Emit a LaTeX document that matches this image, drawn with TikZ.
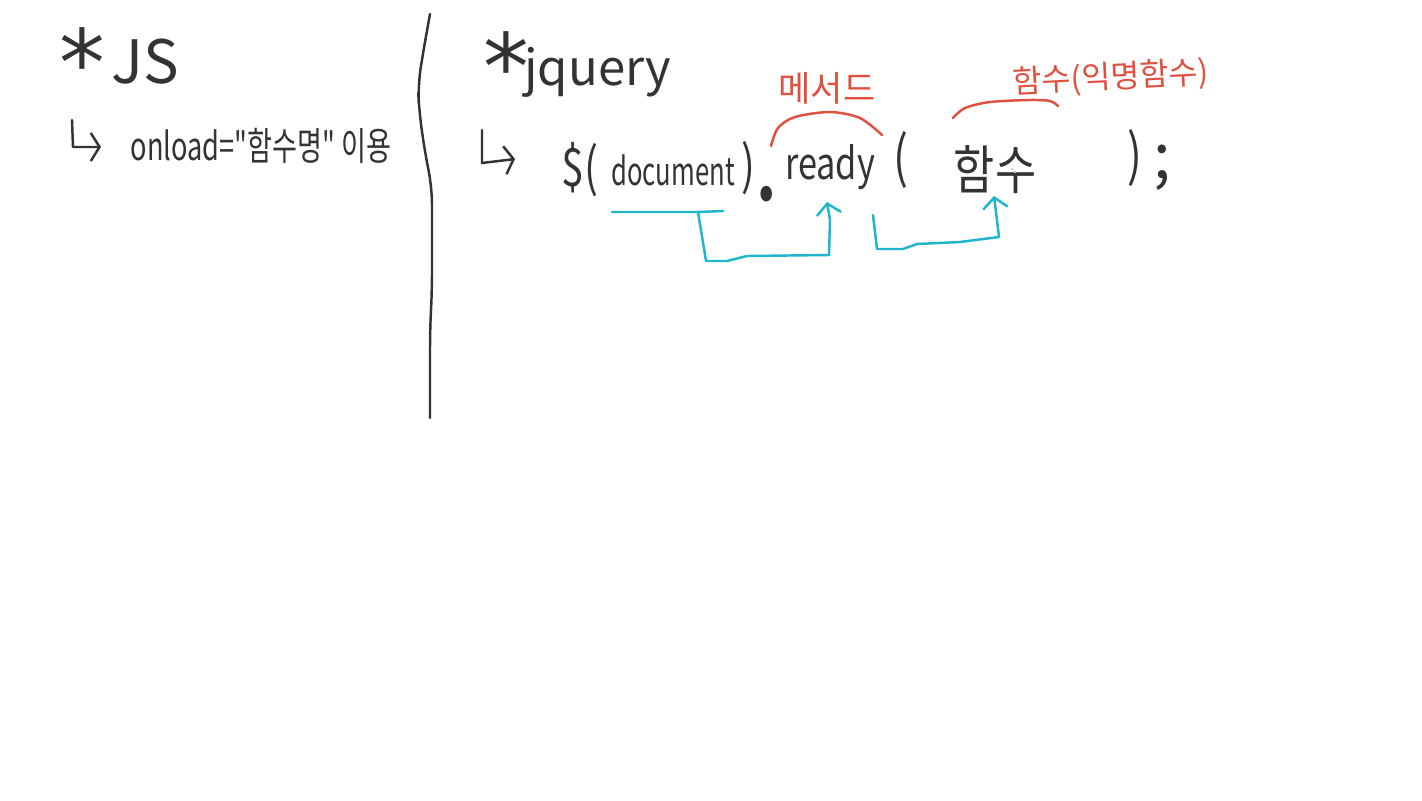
\documentclass[tikz,border=0pt]{standalone}
\usepackage{fontspec}
\setmainfont[Ligatures=TeXOff]{Noto Sans CJK KR}
\newfontfamily\starfont{DejaVu Sans}
\usepackage{xcolor}
\usetikzlibrary{arrows.meta, positioning, calc}

\definecolor{inkblack}{HTML}{333333}
\definecolor{penred}{HTML}{E0503F}
\definecolor{pencyan}{HTML}{1FB5CC}

\begin{document}
\begin{tikzpicture}[
    x=0.01cm,
    y=-0.01cm,
    line cap=round,
    line join=round,
    hand/.style={
        inner sep=0pt,
        text=inkblack,
        transform shape,
        xscale=0.78,
        font=\fontsize{10}{12}\selectfont
    },
    handbig/.style={
        hand,
        xscale=1.28,
        font=\fontsize{15}{18}\selectfont
    },
    bullet/.style={
        inner sep=0pt,
        text=inkblack,
        font=\starfont\fontsize{26}{28}\selectfont
    },
    paren/.style={
        hand,
        font=\fontsize{15}{17}\selectfont
    },
    remark/.style={
        inner sep=0pt,
        text=penred,
        font=\fontsize{9}{11}\selectfont
    },
    divider/.style={inkblack, line width=0.7pt, rounded corners=5pt},
    hook/.style={
        inkblack,
        line width=0.7pt,
        -{Straight Barb[length=2.5pt, width=8pt]}
    },
    bracket/.style={penred, line width=0.7pt},
    link/.style={pencyan, line width=0.7pt},
    arrow/.style={link, -{Straight Barb[length=3pt, width=7pt]}}
]
    \useasboundingbox (0,0) rectangle (1422,800);

    % Left column
    \node [bullet] (jsstar) at (82,62) {*};
    \node [handbig, font=\fontsize{17}{20}\selectfont] (jstitle) at (145,62) {JS};
    \node [hand, xscale=0.9, font=\fontsize{11}{13}\selectfont] (onload) at (261,146) {onload="함수명" 이용};
    \coordinate (jshook) at (72,120);
    \coordinate (jstip) at (101,147);
    \draw [hook] (jshook) -- (73,147) -- (jstip);

    % Column divider
    \draw [divider] (430,14) -- (423,53) -- (418,85) -- (419,110) -- (425,153)
        -- (432,187) -- (432,290) -- (430,330) -- (430,418);

    % Right column
    \node [bullet] (jqstar) at (506,66) {*};
    \node [handbig, font=\fontsize{14}{17}\selectfont] (jqtitle) at (598,72) {jquery};
    \coordinate (jqhook) at (482,130);
    \coordinate (jqtip) at (515,159);
    \draw [hook] (jqhook) -- (482,163) -- (jqtip);

    % Code line, piece by piece
    \node [paren] (dollar) at (580,170) {\$(};
    \node [hand, xscale=0.85, font=\fontsize{11}{13}\selectfont] (doc) at (673,170) {document};
    \node [paren] (docclose) at (748,168) {)};
    \node [hand, font=\fontsize{32}{34}\selectfont, anchor=base] (dot) at (767,200) {.};
    \node [hand, font=\fontsize{12.5}{15}\selectfont] (ready) at (830,167) {ready};
    \node [paren, font=\fontsize{16}{18}\selectfont] (open) at (901,160) {(};
    \node [handbig, xscale=0.85] (func) at (995,170) {함수};
    \node [paren, font=\fontsize{16}{18}\selectfont] (close) at (1135,158) {)};
    \node [handbig, font=\fontsize{18}{20}\selectfont] (semi) at (1162,168) {;};
    \fill [penred!40] (1012,169) circle (0.4pt) (1015,172) circle (0.4pt);

    % Red remarks over the code line
    \node [remark, font=\fontsize{10}{12}\selectfont] (method) at (827,88) {메서드};
    \node [remark, rotate=3] (funcnote) at (1111,78) {함수(익명함수)};
    \coordinate (methodleft) at (771,146);
    \coordinate (methodright) at (882,135);
    \draw [bracket] plot [smooth] coordinates {(methodleft) (778,128) (795,117) (830,112) (860,118) (methodright)};
    \coordinate (funcleft) at (953,118);
    \coordinate (funcright) at (1058,106);
    \draw [bracket] plot [smooth] coordinates {(funcleft) (965,108) (990,102) (1030,100) (1050,101) (funcright)};

    % Cyan links below the code line
    \coordinate (docleft) at (612,212);
    \coordinate (docright) at (723,211);
    \coordinate (docfork) at (698,212);
    \coordinate (readytip) at (827,202);
    \draw [link] (docleft) -- (docfork) -- (docright);
    \draw [arrow] (docfork) -- (706,261) -- (727,261) -- (747,256) -- (829,255) -- (830,220) -- (readytip);
    \coordinate (readyout) at (873,215);
    \coordinate (functip) at (994,196);
    \draw [arrow] (readyout) -- (877,249) -- (903,249) -- (917,244) -- (960,242) -- (999,237) -- (functip);

\end{tikzpicture}
\end{document}
